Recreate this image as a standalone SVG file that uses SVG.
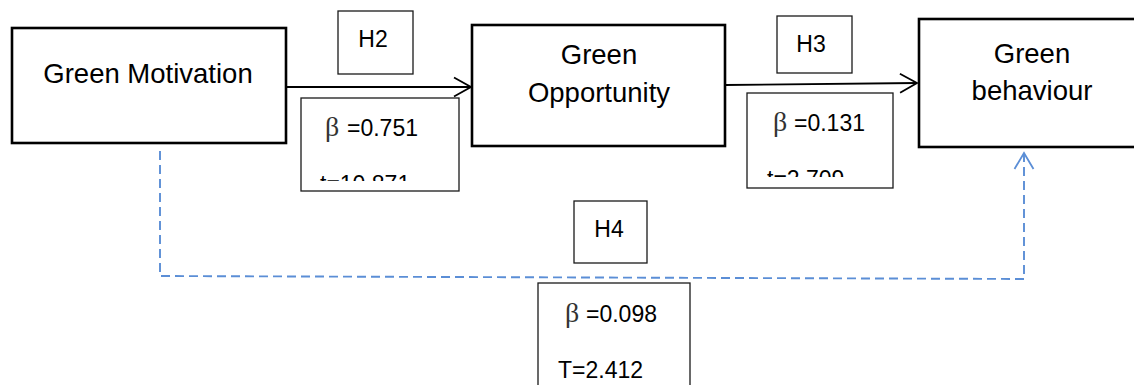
<svg xmlns="http://www.w3.org/2000/svg" width="1134" height="385" viewBox="0 0 1134 385">
  <style>
    .node { fill: #ffffff; stroke: #000000; stroke-width: 2.6; }
    .lbl { fill: #ffffff; stroke: #1a1a1a; stroke-width: 1.3; }
    .nt { font-family: "Liberation Sans", Arial, sans-serif; font-size: 27.5px; fill: #000000; text-anchor: middle; }
    .lt { font-family: "Liberation Sans", Arial, sans-serif; font-size: 23px; fill: #000000; }
    .ht { font-family: "Liberation Sans", Arial, sans-serif; font-size: 23px; fill: #000000; text-anchor: middle; }
    .beta { font-family: "Liberation Serif", "Times New Roman", serif; font-size: 28px; fill: #333333; }
    .arrow { fill: none; stroke: #000000; stroke-width: 1.8; }
    .dash { fill: none; stroke: #5B8ED6; stroke-width: 1.9; stroke-dasharray: 9 5; }
  </style>
  <defs>
    <marker id="headBlack" markerUnits="userSpaceOnUse" markerWidth="24" markerHeight="24" viewBox="-20 -12 24 24" refX="0" refY="0" orient="auto">
      <path d="M-17,-9.5 L0,0 L-17,9.5" fill="none" stroke="#000000" stroke-width="1.8"/>
    </marker>
    <marker id="headBlue" markerUnits="userSpaceOnUse" markerWidth="24" markerHeight="24" viewBox="-20 -12 24 24" refX="0" refY="0" orient="auto">
      <path d="M-16,-9.5 L0,0 L-16,9.5" fill="none" stroke="#5B8ED6" stroke-width="1.8"/>
    </marker>
    <clipPath id="clip1"><rect x="301" y="98" width="158" height="83"/></clipPath>
    <clipPath id="clip2"><rect x="747" y="93" width="146" height="84"/></clipPath>
  </defs>

  <g id="connectors">
    <line class="arrow" x1="286" y1="87" x2="471" y2="87" marker-end="url(#headBlack)"/>
    <line class="arrow" x1="725" y1="85" x2="917" y2="83" marker-end="url(#headBlack)"/>
    <polyline class="dash" points="160,151 160,276 1024,279 1024,153" marker-end="url(#headBlue)"/>
  </g>

  <g id="green-motivation">
    <rect class="node" x="12" y="28" width="274" height="115"/>
    <text class="nt" x="148" y="83">Green Motivation</text>
  </g>

  <g id="green-opportunity">
    <rect class="node" x="472" y="25" width="253" height="121"/>
    <text class="nt" x="599" y="64">Green</text>
    <text class="nt" x="599" y="102">Opportunity</text>
  </g>

  <g id="green-behaviour">
    <rect class="node" x="919" y="19" width="240" height="128"/>
    <text class="nt" x="1032" y="63">Green</text>
    <text class="nt" x="1032" y="100">behaviour</text>
  </g>

  <g id="label-h2">
    <rect class="lbl" x="338" y="11" width="75" height="63"/>
    <text class="ht" x="373" y="47">H2</text>
  </g>

  <g id="label-h3">
    <rect class="lbl" x="777" y="16" width="75" height="57"/>
    <text class="ht" x="811" y="52">H3</text>
  </g>

  <g id="label-h4">
    <rect class="lbl" x="574" y="201" width="73" height="62"/>
    <text class="ht" x="609" y="237">H4</text>
  </g>

  <g id="stats-h2">
    <rect class="lbl" x="301" y="98" width="158" height="93"/>
    <g clip-path="url(#clip1)">
      <text class="beta" x="325" y="136">β</text>
      <text class="lt" x="347" y="136">=0.751</text>
      <text class="lt" x="320" y="192">t=10.871</text>
    </g>
  </g>

  <g id="stats-h3">
    <rect class="lbl" x="747" y="93" width="146" height="95"/>
    <g clip-path="url(#clip2)">
      <text class="beta" x="773" y="131">β</text>
      <text class="lt" x="794" y="131">=0.131</text>
      <text class="lt" x="767" y="187">t=2.709</text>
    </g>
  </g>

  <g id="stats-h4">
    <rect class="lbl" x="538" y="283" width="152" height="120"/>
    <text class="beta" x="565" y="322">β</text>
    <text class="lt" x="586" y="322">=0.098</text>
    <text class="lt" x="558" y="378">T=2.412</text>
  </g>
</svg>
